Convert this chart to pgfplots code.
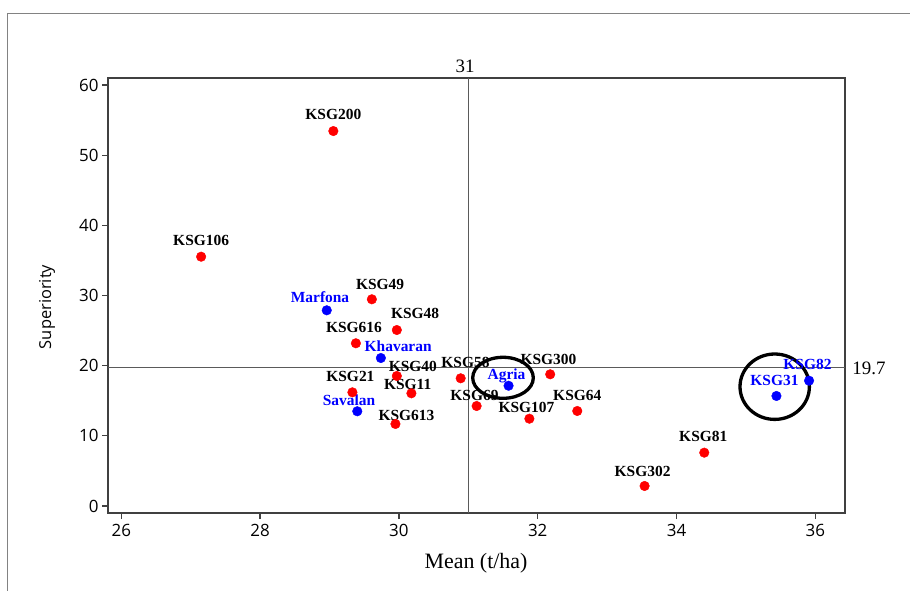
\documentclass[border=0pt]{standalone}
\usepackage{fontspec}
\usepackage{pgfplots}
\pgfplotsset{compat=1.18}
\setmainfont{Liberation Serif}
\newfontfamily\tickfont{Open Sans}
\definecolor{axgray}{RGB}{64,64,64}
\definecolor{refgray}{RGB}{90,90,90}
\definecolor{framegray}{RGB}{130,130,130}
\tikzset{
  lab/.style={font=\bfseries\fontsize{15.5}{15.5}\selectfont, text=black, inner sep=0pt},
  blab/.style={font=\bfseries\fontsize{15.5}{15.5}\selectfont, text=blue, inner sep=0pt},
}
\begin{document}
\begin{tikzpicture}
\useasboundingbox (0,0) rectangle (910bp,591bp);
\draw[framegray, line width=1.4bp] (7.3bp,0) -- (7.3bp,577.7bp) -- (910bp,577.7bp);
\begin{axis}[
  at={(108bp,78bp)}, anchor=south west,
  scale only axis, width=737bp, height=435bp,
  xmin=25.808, xmax=36.428, ymin=-1, ymax=61,
  xtick={26,28,30,32,34,36}, ytick={0,10,20,30,40,50,60},
  tick align=outside, tick pos=left,
  major tick length=6bp,
  axis line style={draw=axgray, line width=2bp},
  every tick/.style={axgray, line width=1.3bp},
  /pgf/number format/assume math mode=true,
  ticklabel style={font=\tickfont\fontsize{17}{17}\selectfont, text=black},
  xticklabel style={yshift=-2bp},
  clip=false,
]
\draw[refgray, line width=1.3bp] (axis cs:31,-1) -- (axis cs:31,61);
\draw[refgray, line width=1.3bp] (axis cs:25.808,19.7) -- (axis cs:36.428,19.7);
% clones (red)
\addplot[only marks, mark=*, mark size=4.8bp, mark options={draw=red, fill=red}] table {
x y
29.055 53.44
27.15 35.53
29.61 29.46
29.97 25.08
29.38 23.19
29.97 18.53
29.33 16.20
30.18 16.06
29.95 11.69
30.89 18.20
31.12 14.25
32.18 18.77
31.88 12.44
32.57 13.54
34.40 7.60
33.54 2.85
};
% cultivars (blue)
\addplot[only marks, mark=*, mark size=4.8bp, mark options={draw=blue, fill=blue}] table {
x y
28.96 27.89
29.74 21.09
29.40 13.50
31.58 17.14
35.44 15.68
35.91 17.86
};
\draw[black, line width=3.3bp] (axis cs:31.50,18.27) ellipse [x radius=30.3bp, y radius=20.5bp];
\draw[black, line width=3.3bp] (axis cs:35.415,17.00) ellipse [x radius=34.7bp, y radius=32.7bp];
% labels
\node[lab, yshift=17bp] at (axis cs:29.055,53.44) {KSG200};
\node[lab, yshift=16.7bp] at (axis cs:27.15,35.53) {KSG106};
\node[lab, xshift=8.3bp, yshift=15.3bp] at (axis cs:29.61,29.46) {KSG49};
\node[lab, xshift=18.3bp, yshift=17bp] at (axis cs:29.97,25.08) {KSG48};
\node[lab, xshift=-2bp, yshift=16.3bp] at (axis cs:29.38,23.19) {KSG616};
\node[lab, xshift=16bp, yshift=10bp] at (axis cs:29.97,18.53) {KSG40};
\node[lab, xshift=-2bp, yshift=15.6bp] at (axis cs:29.33,16.20) {KSG21};
\node[lab, xshift=-3.7bp, yshift=9.3bp] at (axis cs:30.18,16.06) {KSG11};
\node[lab, xshift=11bp, yshift=9bp] at (axis cs:29.95,11.69) {KSG613};
\node[lab, xshift=4.8bp, yshift=15.6bp] at (axis cs:30.89,18.20) {KSG58};
\node[lab, xshift=-2.2bp, yshift=11bp] at (axis cs:31.12,14.25) {KSG69};
\node[lab, xshift=-1.7bp, yshift=15bp] at (axis cs:32.18,18.77) {KSG300};
\node[lab, xshift=-3bp, yshift=11bp] at (axis cs:31.88,12.44) {KSG107};
\node[lab, yshift=16bp] at (axis cs:32.57,13.54) {KSG64};
\node[lab, xshift=-1bp, yshift=16bp] at (axis cs:34.40,7.60) {KSG81};
\node[lab, xshift=-2bp, yshift=14.3bp] at (axis cs:33.54,2.85) {KSG302};
\node[blab, xshift=-6.7bp, yshift=13.6bp] at (axis cs:28.96,27.89) {Marfona};
\node[blab, xshift=17.3bp, yshift=12bp] at (axis cs:29.74,21.09) {Khavaran};
\node[blab, xshift=-8.3bp, yshift=10.6bp] at (axis cs:29.40,13.50) {Savalan};
\node[blab, xshift=-2bp, yshift=9.7bp] at (axis cs:31.58,17.14) {Agria};
\node[blab, xshift=-2bp, yshift=15.3bp] at (axis cs:35.44,15.68) {KSG31};
\node[blab, xshift=-1.6bp, yshift=16.7bp] at (axis cs:35.91,17.86) {KSG82};
\end{axis}
\node[font=\fontsize{19}{19}\selectfont, inner sep=0pt] at (465bp,525bp) {31};
\node[font=\fontsize{19}{19}\selectfont, inner sep=0pt] at (869bp,223bp) {19.7};
\node[font=\fontsize{22}{22}\selectfont, inner sep=0pt] at (476bp,28bp) {Mean (t/ha)};
\node[font=\tickfont\fontsize{16.5}{16.5}\selectfont, inner sep=0pt, rotate=90] at (47bp,284bp) {Superiority};
\end{tikzpicture}
\end{document}
